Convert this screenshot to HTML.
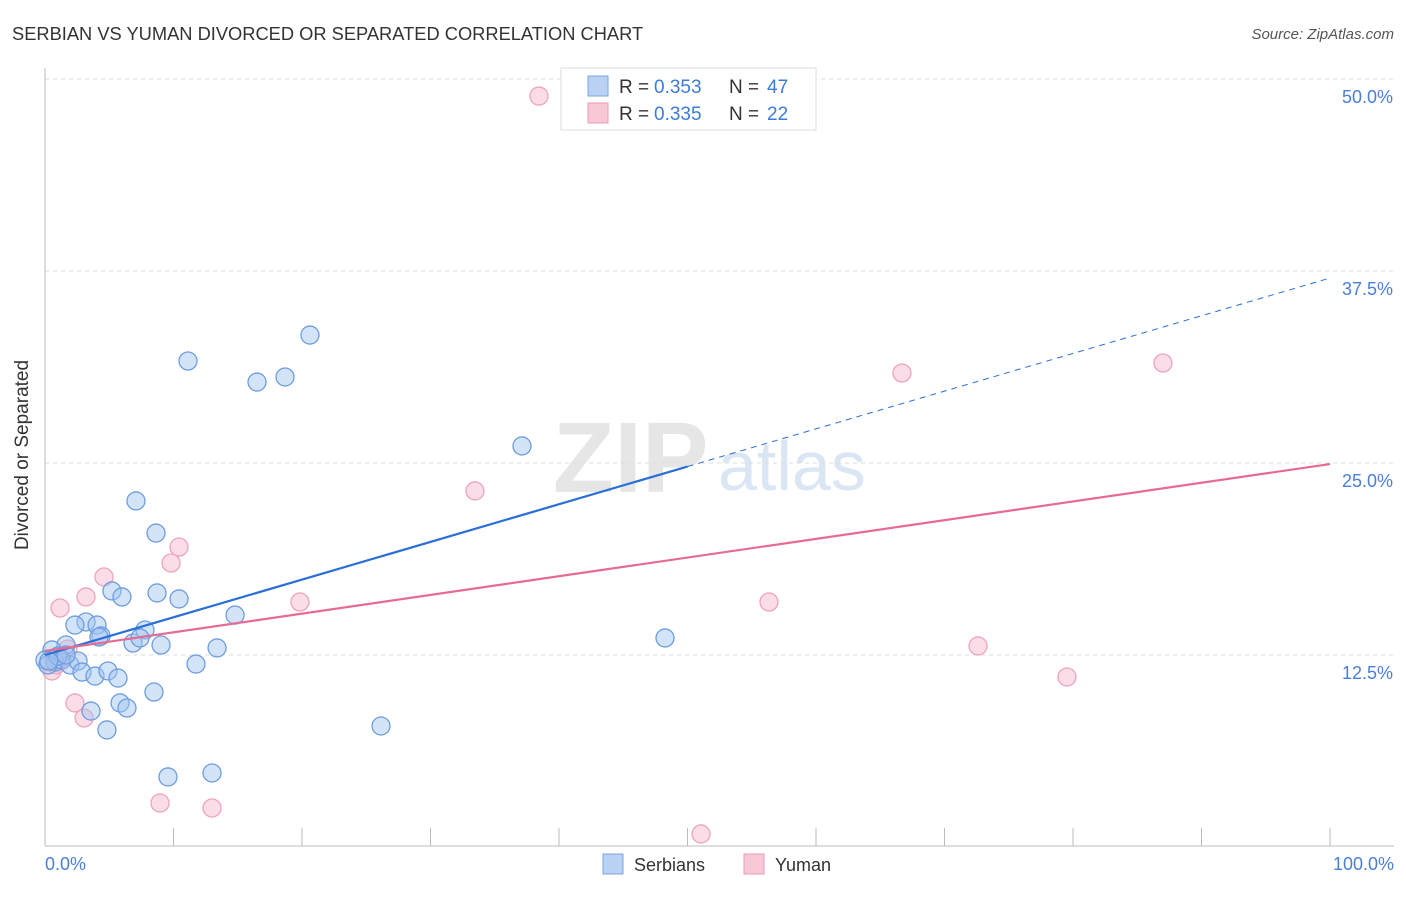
<!DOCTYPE html>
<html><head><meta charset="utf-8"><style>
body{margin:0;background:#fff;font-family:"Liberation Sans",sans-serif}
svg text{font-family:"Liberation Sans",sans-serif}
</style></head><body>
<svg width="1406" height="892" xmlns="http://www.w3.org/2000/svg">
<text x="12" y="40" font-size="18.3" fill="#333">SERBIAN VS YUMAN DIVORCED OR SEPARATED CORRELATION CHART</text>
<text x="1394" y="39" font-size="15" fill="#555" font-style="italic" text-anchor="end">Source: ZipAtlas.com</text>
<text x="553" y="492" font-size="100" fill="#e6e6e6" font-family="Liberation Serif" font-weight="bold">ZIP</text>
<text x="718" y="490" font-size="70" fill="#dbe6f5">atlas</text>
<g id="grid"></g>
<line x1="45" y1="68" x2="45" y2="846" stroke="#bbb"/>
<line x1="45" y1="846" x2="1394" y2="846" stroke="#bbb"/>
<g id="ticks"></g>
<text x="28" y="455" font-size="19" fill="#333" text-anchor="middle" transform="rotate(-90 28 455)">Divorced or Separated</text>
<text x="45" y="870" font-size="18" fill="#4a7fd6">0.0%</text>
<text x="1394" y="870" font-size="18" fill="#4a7fd6" text-anchor="end">100.0%</text>
<g id="pts"></g>
<g id="lines"></g>
<g>
<rect x="561" y="68" width="255" height="62" fill="#fff" stroke="#ddd"/>
<rect x="588" y="76" width="20" height="20" fill="#b9d2f3" stroke="#7ba6e2"/>
<rect x="588" y="103" width="20" height="20" fill="#f9c8d6" stroke="#ec9ab3"/>
<text x="619" y="93" font-size="19" fill="#333">R = </text>
<text x="654" y="93" font-size="19" fill="#3d7bd9">0.353</text>
<text x="729" y="93" font-size="19" fill="#333">N = </text>
<text x="767" y="93" font-size="19" fill="#3d7bd9">47</text>
<text x="619" y="120" font-size="19" fill="#333">R = </text>
<text x="654" y="120" font-size="19" fill="#3d7bd9">0.335</text>
<text x="729" y="120" font-size="19" fill="#333">N = </text>
<text x="767" y="120" font-size="19" fill="#3d7bd9">22</text>
</g>
<g>
<rect x="603" y="854" width="20" height="20" fill="#b9d2f3" stroke="#7ba6e2"/>
<text x="634" y="871" font-size="18" fill="#333">Serbians</text>
<rect x="744" y="854" width="20" height="20" fill="#f9c8d6" stroke="#ec9ab3"/>
<text x="775" y="871" font-size="18" fill="#333">Yuman</text>
</g>
</svg>
<script>
const yTicks=[12.5,25,37.5,50];
const yTickLabels=["12.5%","25.0%","37.5%","50.0%"];
const serbX=[7.08,8.64,11.13,16.5,18.68,20.62,37.12,5.21,5.99,8.72,10.43,14.79,3.19,4.05,2.33,4.36,4.2,7.78,6.85,9.03,13.39,1.63,0.54,0,0.78,1.32,1.95,2.57,2.88,3.89,4.9,5.68,11.75,8.48,5.84,6.38,3.58,4.82,9.57,13,26.15,48.25,0.23,1.01,1.63,7.39,0.3];
const serbY=[22.53,20.44,31.64,30.27,30.6,33.33,26.11,16.67,16.28,16.54,16.15,15.1,14.65,14.45,14.45,13.74,13.67,14.13,13.28,13.15,12.96,13.15,12.83,12.17,12.04,12.17,11.85,12.11,11.39,11.13,11.46,11,11.91,10.09,9.38,9.05,8.85,7.62,4.56,4.82,7.88,13.61,11.85,12.43,12.5,13.61,12.1];
const yumX=[38.44,66.69,87,33.46,10.43,9.81,4.59,3.19,1.17,19.84,56.34,72.61,79.53,1.79,2.33,3.04,8.95,13,51.05,0.54,0.86,1.2];
const yumY=[48.89,30.86,31.51,23.18,19.53,18.49,17.58,16.28,15.56,15.95,15.95,13.09,11.07,12.89,9.38,8.4,2.86,2.54,0.85,11.46,11.85,12.2];
const serbLine=[12.5,37.04];
const yumLine=[12.76,24.93];
const NS="http://www.w3.org/2000/svg";
const sx=v=>45+v*12.85, sy=v=>847-v*15.36;
function mk(t,a,p){const e=document.createElementNS(NS,t);for(const k in a)e.setAttribute(k,a[k]);p.appendChild(e);return e;}
const grid=document.getElementById('grid');
yTicks.forEach((t,i)=>{
 const l=mk('line',{x1:45,x2:1394,y1:sy(t),y2:sy(t),stroke:'#ddd','stroke-dasharray':'4,4'},grid);
 
 
 const tx=mk('text',{x:1393,y:sy(t)+24,'font-size':18,fill:'#4a7fd6','text-anchor':'end'},grid);
 tx.textContent=yTickLabels[i];
 
 
});
const tk=document.getElementById('ticks');
for(let i=1;i<=10;i++){
 const l=mk('line',{x1:sx(i*10),x2:sx(i*10),y1:828,y2:846,stroke:'#bbb'},tk);
 
 
}
const pts=document.getElementById('pts');
yumX.forEach((x,i)=>{
 const c=mk('circle',{cx:sx(x),cy:sy(yumY[i]),r:9,fill:'rgba(245,170,195,0.4)',stroke:'#f0a3bb','stroke-width':1.3},pts);
 
 
});
serbX.forEach((x,i)=>{
 const c=mk('circle',{cx:sx(x),cy:sy(serbY[i]),r:9,fill:'rgba(160,195,240,0.45)',stroke:'#6d9de0','stroke-width':1.3},pts);
 
 
});
const ln=document.getElementById('lines');
const mid=50, bm=serbLine[0]+(serbLine[1]-serbLine[0])*mid/100;
let a=mk('line',{x1:sx(0),y1:sy(serbLine[0]),x2:sx(mid),y2:sy(bm),stroke:'#2a6fd6','stroke-width':2.2},ln);


a=mk('line',{x1:sx(mid),y1:sy(bm),x2:sx(100),y2:sy(serbLine[1]),stroke:'#2a6fd6','stroke-width':1,'stroke-dasharray':'6,5'},ln);


a=mk('line',{x1:sx(0),y1:sy(yumLine[0]),x2:sx(100),y2:sy(yumLine[1]),stroke:'#e56b95','stroke-width':2.2},ln);


</script>
</body></html>
